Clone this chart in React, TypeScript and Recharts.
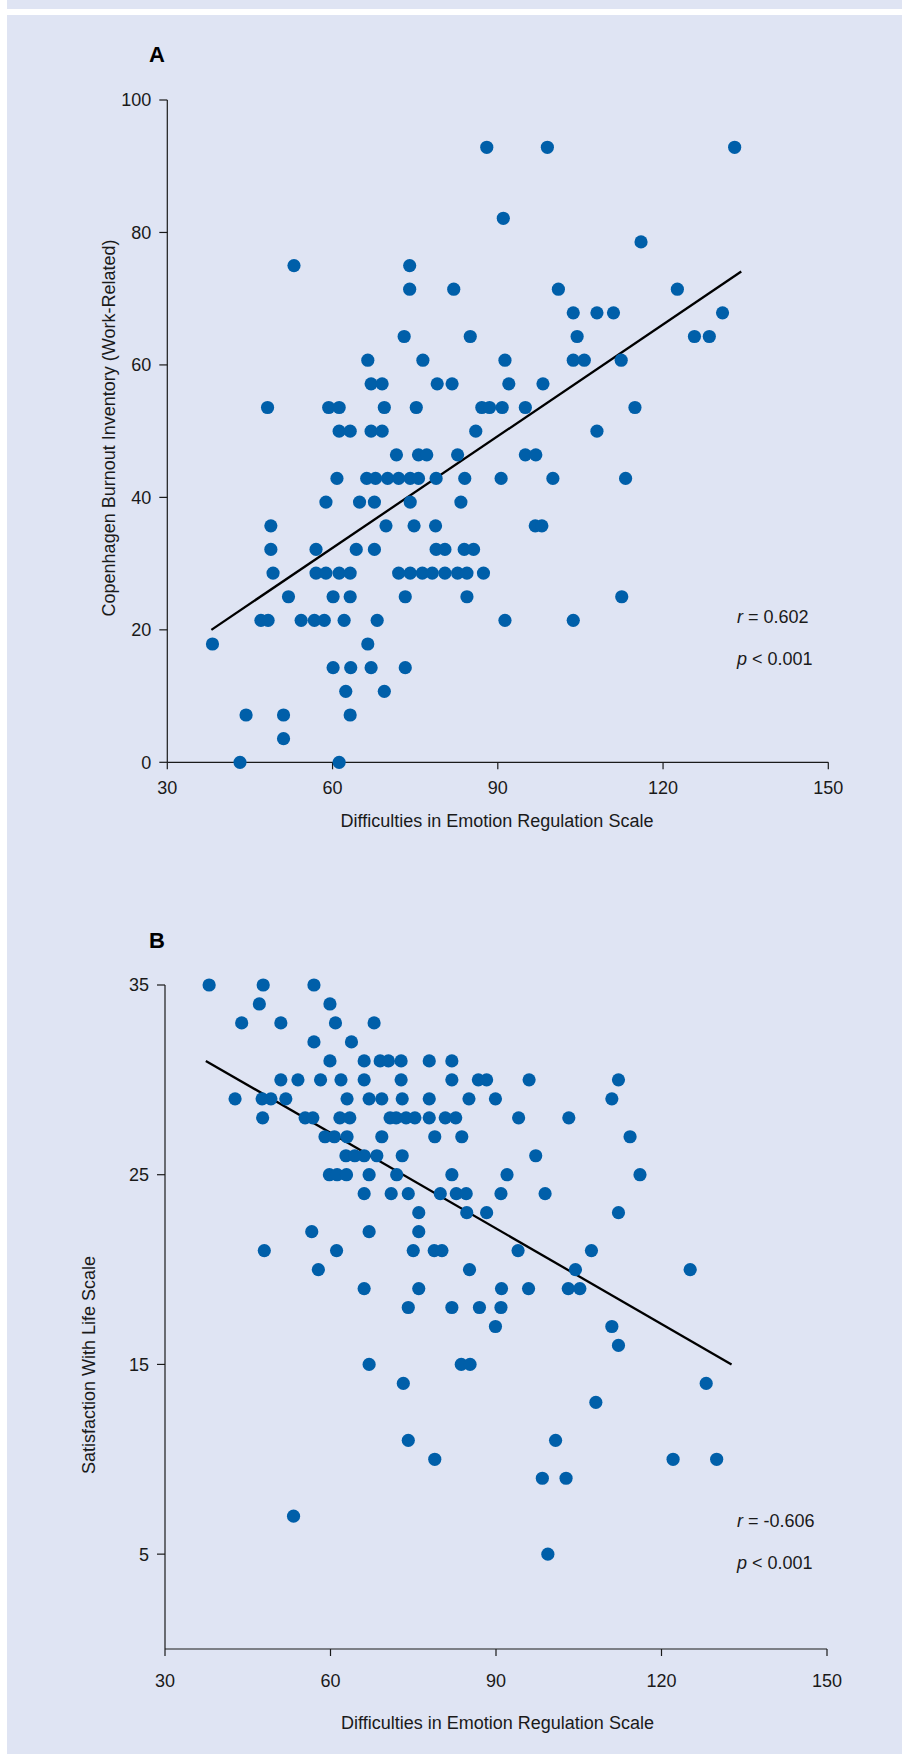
import React from "react";
import { ScatterChart, Scatter, XAxis, YAxis, ReferenceLine } from "recharts";

// ---------- data: panel A (CBI work-related vs DERS) ----------
const burnoutDers: number[] = [
  88, 99, 133,
  91,
  116,
  53, 74,
  74, 82, 101, 122.6,
  103.7, 108, 111, 130.8,
  73, 85, 104.4, 125.7, 128.4,
  66.4, 76.4, 91.3, 103.7, 105.7, 112.4,
  67, 69, 79, 81.7, 92, 98.2,
  48.2, 59.3, 61.2, 69.4, 75.2, 87.1, 88.5, 90.8, 95, 114.9,
  61.2, 63.2, 67, 69, 86, 108,
  71.6, 75.6, 77.1, 82.7, 95, 96.9,
  60.8, 66.2, 67.8, 70, 72, 74.1, 75.6, 78.8, 84, 90.6, 100, 113.2,
  58.8, 64.9, 67.6, 74.1, 83.3,
  48.8, 69.7, 74.8, 78.7, 96.8, 98,
  48.8, 57, 64.3, 67.6, 78.8, 80.4, 83.9, 85.6,
  49.2, 57, 58.8, 61.2, 63.2, 72, 74.1, 76.3, 78.1, 80.4, 82.7, 84.4, 87.4,
  52, 60.1, 63.2, 73.2, 84.4, 112.5,
  47, 48.3, 54.3, 56.7, 58.5, 62.1, 68.1, 91.3, 103.7,
  38.2, 66.4,
  60.1, 63.3, 67, 73.2,
  62.4, 69.4,
  44.3, 51.1, 63.2,
  51.1,
  43.2, 61.2,
];
const burnoutScores: number[] = [
  92.86, 92.86, 92.86,
  82.14,
  78.57,
  75, 75,
  71.43, 71.43, 71.43, 71.43,
  67.86, 67.86, 67.86, 67.86,
  64.29, 64.29, 64.29, 64.29, 64.29,
  60.71, 60.71, 60.71, 60.71, 60.71, 60.71,
  57.14, 57.14, 57.14, 57.14, 57.14, 57.14,
  53.57, 53.57, 53.57, 53.57, 53.57, 53.57, 53.57, 53.57, 53.57, 53.57,
  50, 50, 50, 50, 50, 50,
  46.43, 46.43, 46.43, 46.43, 46.43, 46.43,
  42.86, 42.86, 42.86, 42.86, 42.86, 42.86, 42.86, 42.86, 42.86, 42.86, 42.86, 42.86,
  39.29, 39.29, 39.29, 39.29, 39.29,
  35.71, 35.71, 35.71, 35.71, 35.71, 35.71,
  32.14, 32.14, 32.14, 32.14, 32.14, 32.14, 32.14, 32.14,
  28.57, 28.57, 28.57, 28.57, 28.57, 28.57, 28.57, 28.57, 28.57, 28.57, 28.57, 28.57, 28.57,
  25, 25, 25, 25, 25, 25,
  21.43, 21.43, 21.43, 21.43, 21.43, 21.43, 21.43, 21.43, 21.43,
  17.86, 17.86,
  14.29, 14.29, 14.29, 14.29,
  10.71, 10.71,
  7.14, 7.14, 7.14,
  3.57,
  0, 0,
];
const burnoutFitLine = [
  { x: 38, y: 20 },
  { x: 134.2, y: 74.1 },
];
const burnoutYTicks = [0, 20, 40, 60, 80, 100];

// ---------- data: panel B (SWLS vs DERS) ----------
const lifeDers: number[] = [
  38, 47.8, 57,
  47.1, 59.9,
  43.9, 51, 60.9, 67.9,
  57, 63.8,
  59.9, 66.1, 69, 70.5, 72.8, 77.9, 82,
  51, 54.1, 58.2, 61.9, 66.1, 72.8, 82, 86.8, 88.3, 96, 112.2,
  42.7, 47.6, 49.2, 51.9, 63, 67, 69.3, 73, 77.9, 85.1, 89.9, 111,
  47.7, 55.4, 56.8, 61.7, 63.5, 70.8, 71.9, 73.7, 75.3, 77.9, 80.8, 82.7, 94.1, 103.2,
  59, 60.7, 63, 69.3, 78.9, 83.8, 114.3,
  62.8, 64.4, 66.1, 68.4, 73, 97.2,
  59.8, 61.2, 62.9, 67, 72, 82, 92, 116.1,
  66.1, 71, 74.1, 79.9, 82.8, 84.6, 90.9, 98.9,
  76, 84.7, 88.3, 112.2,
  56.6, 67, 76,
  48, 61.1, 75, 78.8, 80.2, 94, 107.3,
  57.8, 85.2, 104.4, 125.2,
  66.1, 76, 91, 95.9, 103.1, 105.2,
  74.1, 82, 87, 90.9,
  89.9, 111,
  112.2,
  67, 83.7, 85.3,
  73.2, 128.1,
  108.1,
  74.1, 100.8,
  78.9, 122.1, 130,
  98.4, 102.7,
  53.3,
  99.4,
];
const lifeScores: number[] = [
  35, 35, 35,
  34, 34,
  33, 33, 33, 33,
  32, 32,
  31, 31, 31, 31, 31, 31, 31,
  30, 30, 30, 30, 30, 30, 30, 30, 30, 30, 30,
  29, 29, 29, 29, 29, 29, 29, 29, 29, 29, 29, 29,
  28, 28, 28, 28, 28, 28, 28, 28, 28, 28, 28, 28, 28, 28,
  27, 27, 27, 27, 27, 27, 27,
  26, 26, 26, 26, 26, 26,
  25, 25, 25, 25, 25, 25, 25, 25,
  24, 24, 24, 24, 24, 24, 24, 24,
  23, 23, 23, 23,
  22, 22, 22,
  21, 21, 21, 21, 21, 21, 21,
  20, 20, 20, 20,
  19, 19, 19, 19, 19, 19,
  18, 18, 18, 18,
  17, 17,
  16,
  15, 15, 15,
  14, 14,
  13,
  11, 11,
  10, 10, 10,
  9, 9,
  7,
  5,
];
const lifeFitLine = [
  { x: 37.4, y: 31.0 },
  { x: 132.7, y: 15.0 },
];
const lifeYTicks = [5, 15, 25, 35];

const dersTicks = [30, 60, 90, 120, 150];

const pointsA = burnoutDers.map((x, i) => ({ x, y: burnoutScores[i] }));
const pointsB = lifeDers.map((x, i) => ({ x, y: lifeScores[i] }));

// ---------- style ----------
const FONT = '"Liberation Sans", Arial, sans-serif';
const DOT = "#005fa9";
const PANEL = "#dfe4f3";
const INK = "#1a1a1a";

const Dot = (props: any) => {
  const { cx, cy } = props;
  if (cx == null || cy == null) return null;
  return <circle cx={cx} cy={cy} r={6.6} fill={DOT} />;
};

const tickStyle = { fill: INK, fontSize: 18, fontFamily: FONT };
const lineStyle = { stroke: INK, strokeWidth: 1.2 };

function ChartA() {
  return (
    <div style={{ position: "absolute", left: 0, top: 0 }}>
      <ScatterChart
        width={902}
        height={880}
        margin={{ top: 100, right: 73.7, bottom: 0, left: 0 }}
      >
        <XAxis
          type="number"
          dataKey="x"
          domain={[30, 150]}
          ticks={dersTicks}
          interval={0}
          height={117.7}
          tickSize={7}
          tickMargin={12}
          axisLine={lineStyle}
          tickLine={lineStyle}
          tick={tickStyle}
        />
        <YAxis
          type="number"
          dataKey="y"
          domain={[0, 100]}
          ticks={burnoutYTicks}
          interval={0}
          width={167.3}
          tickSize={8}
          tickMargin={8}
          axisLine={lineStyle}
          tickLine={lineStyle}
          tick={tickStyle}
        />
        <Scatter data={pointsA} shape={Dot} isAnimationActive={false} />
        <ReferenceLine
          segment={burnoutFitLine}
          stroke="#000"
          strokeWidth={2.3}
          ifOverflow="visible"
        />
        <text x={157} y={62} textAnchor="middle" fontFamily={FONT} fontWeight="bold" fontSize={22} fill="#000">
          A
        </text>
        <text
          x={0}
          y={0}
          transform="translate(115,428) rotate(-90)"
          textAnchor="middle"
          fontFamily={FONT}
          fontSize={18}
          fill={INK}
        >
          Copenhagen Burnout Inventory (Work-Related)
        </text>
        <text x={497} y={827} textAnchor="middle" fontFamily={FONT} fontSize={18} fill={INK}>
          Difficulties in Emotion Regulation Scale
        </text>
        <text x={737} y={622.7} fontFamily={FONT} fontSize={18} fill={INK}>
          <tspan fontStyle="italic">r</tspan> = 0.602
        </text>
        <text x={737} y={665} fontFamily={FONT} fontSize={18} fill={INK}>
          <tspan fontStyle="italic">p</tspan> &lt; 0.001
        </text>
      </ScatterChart>
    </div>
  );
}

function ChartB() {
  return (
    <div style={{ position: "absolute", left: 0, top: 880 }}>
      <ScatterChart
        width={902}
        height={874}
        margin={{ top: 105, right: 75, bottom: 0, left: 0 }}
      >
        <XAxis
          type="number"
          dataKey="x"
          domain={[30, 150]}
          ticks={dersTicks}
          interval={0}
          height={105}
          tickSize={7}
          tickMargin={18}
          axisLine={lineStyle}
          tickLine={lineStyle}
          tick={tickStyle}
        />
        <YAxis
          type="number"
          dataKey="y"
          domain={[0, 35]}
          ticks={lifeYTicks}
          interval={0}
          width={165}
          tickSize={8}
          tickMargin={8}
          axisLine={lineStyle}
          tickLine={lineStyle}
          tick={tickStyle}
        />
        <Scatter data={pointsB} shape={Dot} isAnimationActive={false} />
        <ReferenceLine
          segment={lifeFitLine}
          stroke="#000"
          strokeWidth={2.3}
          ifOverflow="visible"
        />
        <text x={157} y={68} textAnchor="middle" fontFamily={FONT} fontWeight="bold" fontSize={22} fill="#000">
          B
        </text>
        <text
          x={0}
          y={0}
          transform="translate(95,485) rotate(-90)"
          textAnchor="middle"
          fontFamily={FONT}
          fontSize={18}
          fill={INK}
        >
          Satisfaction With Life Scale
        </text>
        <text x={497.5} y={849} textAnchor="middle" fontFamily={FONT} fontSize={18} fill={INK}>
          Difficulties in Emotion Regulation Scale
        </text>
        <text x={737} y={647} fontFamily={FONT} fontSize={18} fill={INK}>
          <tspan fontStyle="italic">r</tspan> = -0.606
        </text>
        <text x={737} y={689} fontFamily={FONT} fontSize={18} fill={INK}>
          <tspan fontStyle="italic">p</tspan> &lt; 0.001
        </text>
      </ScatterChart>
    </div>
  );
}

export default function App() {
  return (
    <div
      style={{
        position: "absolute",
        left: 0,
        top: 0,
        width: 902,
        height: 1754,
        background: "#ffffff",
        overflow: "hidden",
      }}
    >
      <div style={{ position: "absolute", left: 7, top: 0, width: 895, height: 9, background: PANEL }} />
      <div style={{ position: "absolute", left: 7, top: 15, width: 895, height: 1739, background: PANEL }} />
      <ChartA />
      <ChartB />
    </div>
  );
}
